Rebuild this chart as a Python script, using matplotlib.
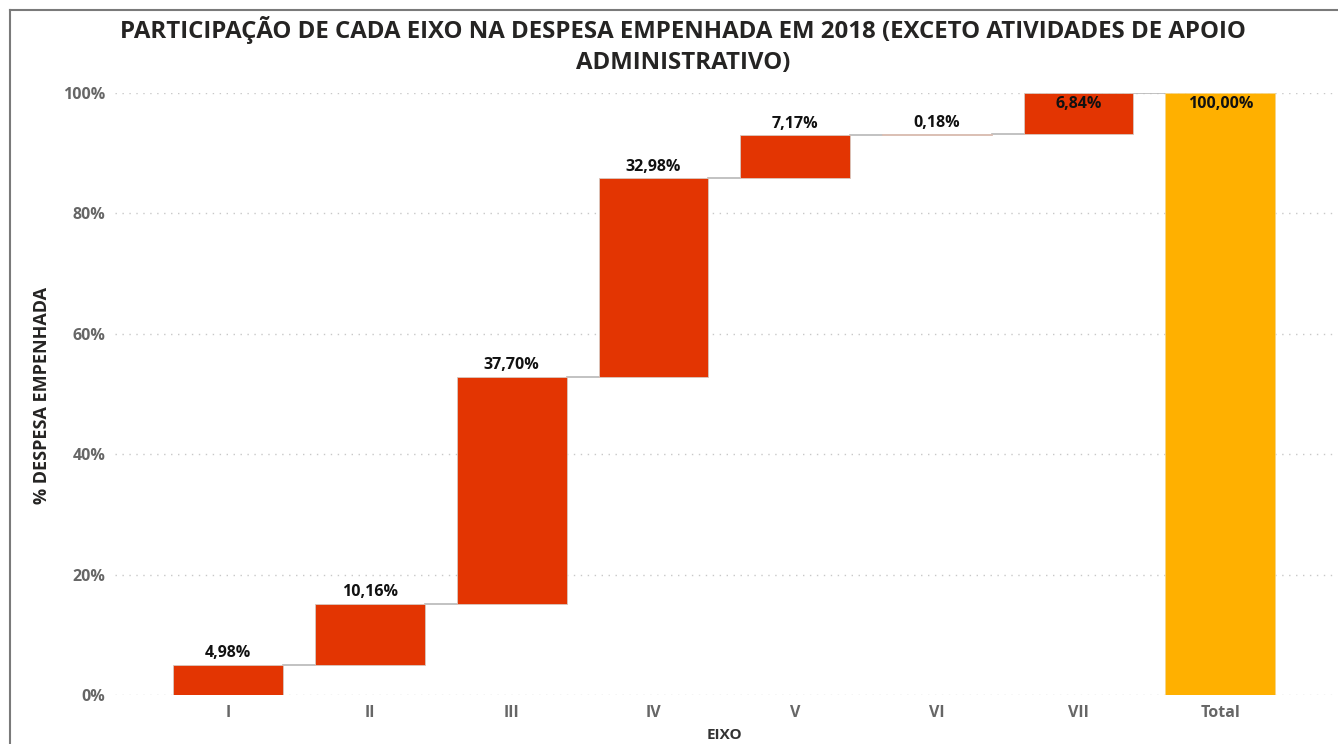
import matplotlib
matplotlib.use("Agg")
import matplotlib.pyplot as plt
from matplotlib.lines import Line2D
from matplotlib.ticker import FuncFormatter

categories = ["I", "II", "III", "IV", "V", "VI", "VII"]
values = [4.98, 10.16, 37.70, 32.98, 7.17, 0.18, 6.84]
total_label = "Total"
total_value = 100.00
yticks = [0, 20, 40, 60, 80, 100]

plt.rcParams['font.family'] = ['Open Sans', 'DejaVu Sans']

fig = plt.figure(figsize=(13.38, 7.44), dpi=100)
ax = fig.add_axes([115/1338, 1 - 695/744, (1333.6-115)/1338, (695-93)/744])

red = "#E33502"
gold = "#FFB000"
w = 0.775

def fmt(v):
    return f"{v:.2f}".replace(".", ",") + "%"

cum = 0.0
xs = list(range(len(categories)))
for i, v in enumerate(values):
    ax.bar(i, v, bottom=cum, width=w, color=red, edgecolor="#d8c8c0", linewidth=0.6, zorder=3)
    top = cum + v
    ax.plot([i + w/2, i + 1 - w/2], [top, top], color="#b8b8b8", lw=1.2, zorder=2)
    if top > 97:
        ax.text(i, top - 0.5, fmt(v), ha="center", va="top", fontsize=11.5, fontweight="bold", color="#111111", zorder=4)
    else:
        ax.text(i, top + 0.6, fmt(v), ha="center", va="bottom", fontsize=11.5, fontweight="bold", color="#111111", zorder=4)
    cum = top

ti = len(categories)
ax.bar(ti, total_value, width=w, color=gold, edgecolor="#f5d58a", linewidth=0.6, zorder=3)
ax.text(ti, total_value - 0.5, fmt(total_value), ha="center", va="top", fontsize=11.5, fontweight="bold", color="#111111", zorder=4)

ax.set_xlim(-0.8, len(categories) + 0.8)
ax.set_ylim(0, 100)
ax.set_yticks(yticks)
ax.yaxis.set_major_formatter(FuncFormatter(lambda v, p: f"{int(v)}%"))
ax.set_xticks(xs + [ti])
ax.set_xticklabels(categories + [total_label])
ax.tick_params(axis="x", length=0, labelsize=11.5, labelcolor="#666666", pad=7)
ax.tick_params(axis="y", length=0, labelsize=11.5, labelcolor="#666666", pad=7)
for lab in ax.get_xticklabels() + ax.get_yticklabels():
    lab.set_fontweight("bold")
ax.grid(axis="y", color="#c8c8c8", linestyle=(0, (1, 4)), linewidth=1, zorder=0)
for s in ax.spines.values():
    s.set_visible(False)

ax.set_xlabel("EIXO", fontsize=11, fontweight="bold", color="#333333", labelpad=5)
fig.text(42/1338, 1 - 395/744, "% DESPESA EMPENHADA", rotation=90, ha="center", va="center",
         fontsize=13, fontweight="bold", color="#252423")

fig.text(683/1338, 1 - 30/744, "PARTICIPAÇÃO DE CADA EIXO NA DESPESA EMPENHADA EM 2018 (EXCETO ATIVIDADES DE APOIO",
         ha="center", va="center", fontsize=17.3, fontweight="bold", color="#252423")
fig.text(683/1338, 1 - 63/744, "ADMINISTRATIVO)", ha="center", va="center", fontsize=17.3, fontweight="bold", color="#252423")

fig.add_artist(Line2D([10/1338, 10/1338], [0, 1 - 10/744], color="#7a7a7a", lw=1.5))
fig.add_artist(Line2D([10/1338, 1], [1 - 10/744, 1 - 10/744], color="#7a7a7a", lw=1.5))

fig.savefig("out.png", dpi=100)
